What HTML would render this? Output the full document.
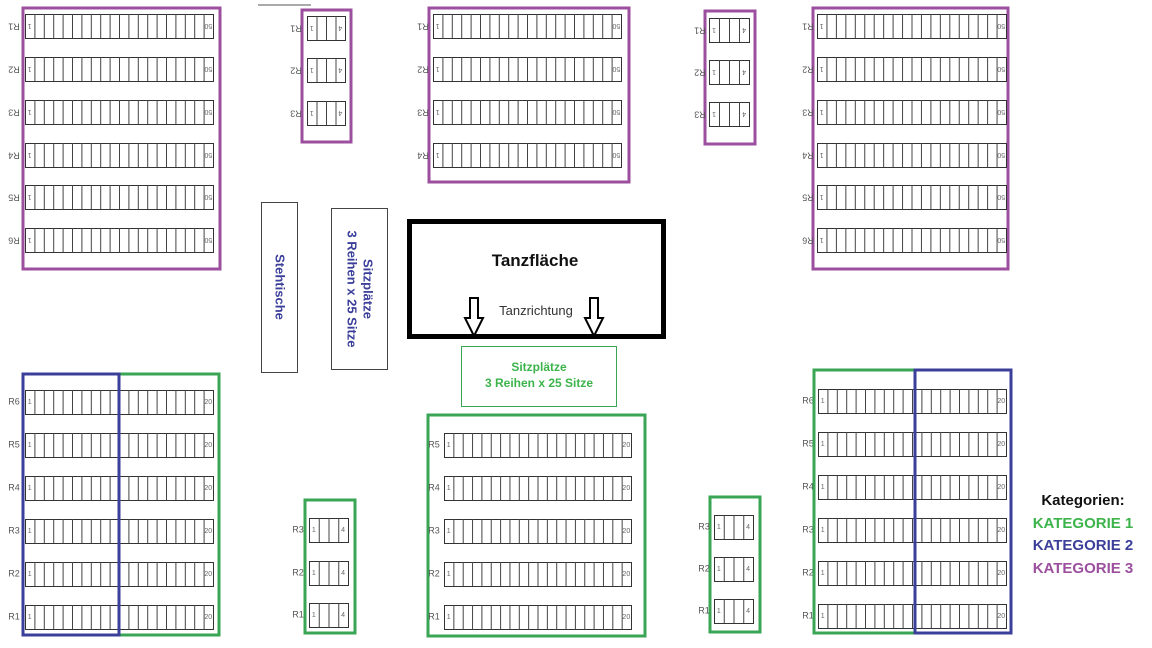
<!DOCTYPE html>
<html><head><meta charset="utf-8"><style>
html,body{margin:0;padding:0;background:#fff;}
svg{display:block;font-family:"Liberation Sans",sans-serif;}
</style></head><body>
<svg id="s" width="1152" height="648" viewBox="0 0 1152 648" xmlns="http://www.w3.org/2000/svg">
<line x1="258" y1="5" x2="311" y2="5" stroke="#555" stroke-width="1"/>
<!-- Static boxes -->
<rect x="261.5" y="202.5" width="36" height="170" fill="none" stroke="#444" stroke-width="1"/>
<text transform="translate(279,287) rotate(90)" text-anchor="middle" dominant-baseline="middle" font-size="13" font-weight="bold" fill="#3b3f9a">Stehtische</text>
<rect x="331.5" y="208.5" width="56" height="161" fill="none" stroke="#444" stroke-width="1"/>
<text transform="translate(367,289) rotate(90)" text-anchor="middle" dominant-baseline="middle" font-size="13" font-weight="bold" fill="#3b3f9a">Sitzplätze</text>
<text transform="translate(351,289) rotate(90)" text-anchor="middle" dominant-baseline="middle" font-size="13" font-weight="bold" fill="#3b3f9a">3 Reihen x 25 Sitze</text>
<rect x="409.5" y="221.5" width="254" height="115" fill="none" stroke="#000" stroke-width="5"/>
<text x="535" y="266" text-anchor="middle" font-size="17" font-weight="bold" fill="#111">Tanzfläche</text>
<text x="536" y="315" text-anchor="middle" font-size="13" fill="#333">Tanzrichtung</text>
<path d="M470,298 h8 v20 h5 l-9,18 l-9,-18 h5 z" fill="#fff" stroke="#000" stroke-width="2"/>
<path d="M590,298 h8 v20 h5 l-9,18 l-9,-18 h5 z" fill="#fff" stroke="#000" stroke-width="2"/>
<rect x="461.5" y="346.5" width="155" height="60" fill="none" stroke="#3aa655" stroke-width="1"/>
<text x="539" y="371" text-anchor="middle" font-size="12" font-weight="bold" fill="#3cb44b">Sitzplätze</text>
<text x="539" y="387" text-anchor="middle" font-size="12" font-weight="bold" fill="#3cb44b">3 Reihen x 25 Sitze</text>
<text x="1083" y="505" text-anchor="middle" font-size="15" font-weight="bold" fill="#111">Kategorien:</text>
<text x="1083" y="528" text-anchor="middle" font-size="15" font-weight="bold" fill="#3cb44b">KATEGORIE 1</text>
<text x="1083" y="550" text-anchor="middle" font-size="15" font-weight="bold" fill="#3b3f9a">KATEGORIE 2</text>
<text x="1083" y="573" text-anchor="middle" font-size="15" font-weight="bold" fill="#9b4f9e">KATEGORIE 3</text>
<g id="dyn"></g>
</svg>
<script>
var NS="http://www.w3.org/2000/svg",g=document.getElementById("dyn");
function el(n,a,t){var e=document.createElementNS(NS,n);for(var k in a)e.setAttribute(k,a[k]);if(t!=null)e.textContent=t;g.appendChild(e);return e;}
var P="#9b4f9e",G="#3aa655",B="#3b3f9a";
function row(x1,x2,cy,n,last,label,lx,flip){
  var h=24,y=cy-h/2,w=(x2-x1)/n;
  el("rect",{x:x1+.5,y:y+.5,width:x2-x1,height:h,fill:"#fff",stroke:"#333","stroke-width":1});
  for(var i=1;i<n;i++){el("line",{x1:x1+i*w+.5,y1:y,x2:x1+i*w+.5,y2:y+h,stroke:"#444","stroke-width":1});}
  function t(x,s,fs,col){var e=el("text",{x:x,y:cy,"text-anchor":"middle","dominant-baseline":"middle","font-size":fs,fill:col},s);if(flip)e.setAttribute("transform","rotate(180 "+x+" "+cy+")");}
  t(x1+w/2,"1",7,"#666");t(x2-w/2,last,7,"#666");
  if(label)t(lx,label,9,"#555");
}
function box(x,y,w,h,c){el("rect",{x:x,y:y,width:w,height:h,fill:"none",stroke:c,"stroke-width":3});}
// top
var ty6=[26,69,112,155,197,240],ty4=[26,69,112,155];
box(23,8,197,261,P);ty6.forEach(function(c,i){row(25,213,c,20,"50","R"+(i+1),14,true);});
box(302,10,49,132,P);[28,70,113].forEach(function(c,i){row(307,345,c,4,"4","R"+(i+1),296,true);});
box(429,8,200,174,P);ty4.forEach(function(c,i){row(433,621,c,20,"50","R"+(i+1),423,true);});
box(705,11,50,133,P);[30,72,114].forEach(function(c,i){row(709,749,c,4,"4","R"+(i+1),700,true);});
box(813,8,195,261,P);ty6.forEach(function(c,i){row(817,1006,c,20,"50","R"+(i+1),808,true);});
// bottom
var by6=[402,445,488,531,574,617];
by6.forEach(function(c,i){row(25,213,c,20,"20","R"+(6-i),14,false);});
box(119,374,100,261,G);box(23,374,96,261,B);
box(305,500,50,133,G);[530,573,615].forEach(function(c,i){row(309,348,c,4,"4","R"+(3-i),298,false);});
box(428,415,217,221,G);[445,488,531,574,617].forEach(function(c,i){row(444,631,c,20,"20","R"+(5-i),434,false);});
box(710,497,50,135,G);[527,569,611].forEach(function(c,i){row(714,753,c,4,"4","R"+(3-i),704,false);});
[401,444,487,530,573,616].forEach(function(c,i){row(818,1006,c,20,"20","R"+(6-i),808,false);});
box(814,370,101,263,G);box(915,370,96,263,B);
</script>
</body></html>
